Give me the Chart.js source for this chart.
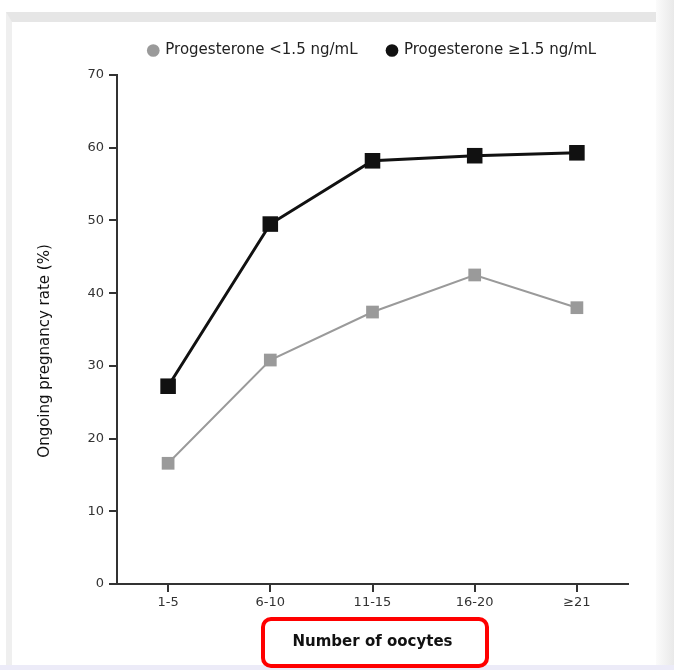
<!DOCTYPE html>
<html>
<head>
<meta charset="utf-8">
<script src="https://cdn.jsdelivr.net/npm/chart.js@4/dist/chart.umd.min.js"></script>
<style>
  html, body { margin: 0; padding: 0; background: #fff; }
  #wrap { position: relative; width: 674px; height: 670px; overflow: hidden; }
  #frame { position: absolute; left: 6px; top: 12px; width: 650px; height: 656px;
           border-top: 10px solid #e6e6e6; border-left: 6px solid #efefef; }
  #rightband { position: absolute; left: 656px; top: 0; width: 18px; height: 670px;
               background: linear-gradient(to right, #fbfbfb, #e9e9e9); }
  #bottomline { position: absolute; left: 0; top: 665px; width: 674px; height: 5px; background: #ecebf8; }
  #myChart { position: absolute; left: 0; top: 0; }
  #redbox { position: absolute; left: 261px; top: 617px; width: 220px; height: 43px;
            border: 4px solid #ff0000; border-radius: 10px; }
</style>
</head>
<body>
<div id="wrap">
  <div id="frame"></div>
  <div id="rightband"></div>
  <div id="bottomline"></div>
  <canvas id="myChart" width="674" height="670"></canvas>
  <div id="redbox"></div>
</div>
<script>
// data
var oocyteGroups = ["1-5", "6-10", "11-15", "16-20", "\u226521"];
var lowProg = [16.6, 30.8, 37.4, 42.5, 38.0];
var highProg = [27.2, 49.5, 58.2, 58.9, 59.3];
var yTicks = [0, 10, 20, 30, 40, 50, 60, 70];

var axisColor = '#333333';
var fam = 'DejaVu Sans, Verdana, sans-serif';

// push the plot down a bit below the legend
var legendGap = {
    id: 'legendGap',
    afterInit: function(chart){
        var fit = chart.legend.fit;
        chart.legend.fit = function(){
            fit.bind(chart.legend)();
            this.height += 7;
        };
    }
};

function createGraph(){
    var ctx = document.getElementById("myChart");
    var myChart = new Chart(ctx, {
        type: 'line',
        data: {
            labels: oocyteGroups,
            datasets: [
                {
                    label: "Progesterone <1.5 ng/mL",
                    data: lowProg,
                    borderColor: '#9a9a9a',
                    backgroundColor: '#9a9a9a',
                    borderWidth: 2,
                    pointStyle: 'rect',
                    pointRadius: 9,
                    pointBorderWidth: 0
                },
                {
                    label: "Progesterone \u22651.5 ng/mL",
                    data: highProg,
                    borderColor: '#111111',
                    backgroundColor: '#111111',
                    borderWidth: 3,
                    pointStyle: 'rect',
                    pointRadius: 11,
                    pointBorderWidth: 0
                }
            ]
        },
        options: {
            responsive: false,
            animation: false,
            layout: { padding: { left: 20, right: 46, top: 13, bottom: 0 } },
            plugins: {
                legend: {
                    position: 'top',
                    fullSize: false,
                    labels: {
                        usePointStyle: true,
                        pointStyle: 'circle',
                        boxWidth: 9,
                        boxHeight: 9,
                        padding: 30,
                        color: '#222',
                        font: { family: fam, size: 15 }
                    }
                },
                tooltip: { enabled: false }
            },
            scales: {
                x: {
                    type: 'category',
                    offset: true,
                    grid: { display: true, drawOnChartArea: false, drawTicks: true, tickLength: 8,
                            color: axisColor, lineWidth: 2, offset: false },
                    border: { color: axisColor, width: 2 },
                    ticks: { color: '#333', font: { family: fam, size: 13 }, padding: 3 },
                    title: { display: true, text: 'Number of oocytes', color: '#111',
                             font: { family: fam, size: 15, weight: 'bold' },
                             padding: { top: 4, bottom: 19 } },
                    afterFit: function(scale){ scale.height = 86; }
                },
                y: {
                    min: 0,
                    max: 70,
                    afterBuildTicks: function(scale){
                        scale.ticks = yTicks.map(function(v){ return { value: v }; });
                    },
                    grid: { display: true, drawOnChartArea: false, drawTicks: true, tickLength: 8,
                            color: axisColor, lineWidth: 2 },
                    border: { color: axisColor, width: 2 },
                    ticks: { color: '#333', font: { family: fam, size: 13 }, padding: 5 },
                    title: { display: true,
                             text: 'Ongoing pregnancy rate (%)' + '\u00a0'.repeat(9),
                             color: '#111',
                             font: { family: fam, size: 15 }, padding: { top: 16, bottom: 0 } },
                    afterFit: function(scale){ scale.width = 97; }
                }
            }
        },
        plugins: [legendGap]
    });
}

createGraph();
</script>
</body>
</html>
